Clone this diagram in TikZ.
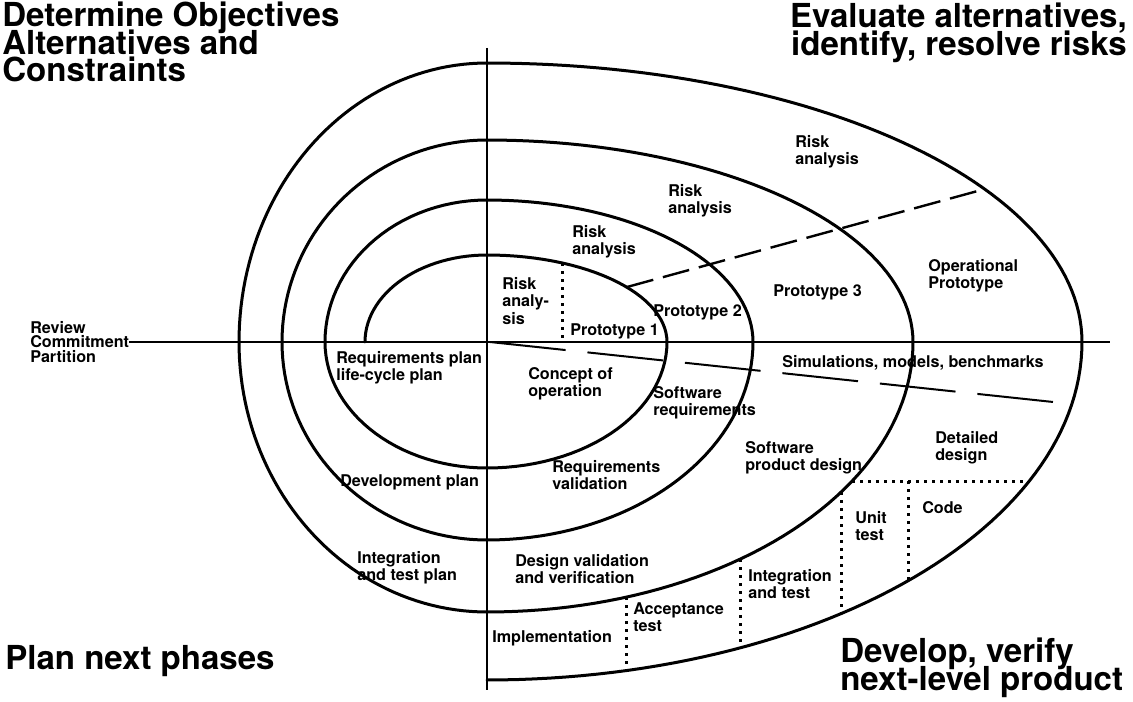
\documentclass[tikz,border=0pt]{standalone}
\usepackage{fontspec}
\setmainfont{TeX Gyre Heros}

\begin{document}
\begin{tikzpicture}[
    x=0.025cm, y=-0.025cm,
    spiral/.style={line width=0.075cm, line join=round, line cap=round},
    axis/.style={line width=0.07cm},
    protodash/.style={line width=0.06cm, dash pattern=on 0.68cm off 0.25cm},
    simdash/.style={line width=0.05cm, dash pattern=on 1.9cm off 0.55cm},
    split/.style={line width=0.075cm, dash pattern=on 0.08cm off 0.12cm},
    label/.style={anchor=north west, align=left, inner sep=0pt,
        font={\fontsize{11.5}{12.5}\selectfont\bfseries\lineskiplimit=-20pt}},
    heading/.style={inner sep=0pt,
        font={\fontsize{23.5}{19.5}\selectfont\bfseries\lineskiplimit=-40pt}},
]
\useasboundingbox (0,0) rectangle (1133,702);

% Quadrant headings
\node[heading, anchor=north west, align=left] (objectives) at (2,2) {Determine Objectives\\Alternatives and\\Constraints};
\node[heading, anchor=north east, align=right] (evaluate) at (1127,3) {Evaluate alternatives,\\identify, resolve risks};
\node[heading, anchor=north west] (plan) at (5,645) {Plan next phases};
\node[heading, anchor=north west, align=left] (develop) at (840,638) {Develop, verify\\next-level product};

% Axes
\node[label, anchor=west, font={\fontsize{11.5}{10.5}\selectfont\bfseries}] (review) at (30,342) {Review\\Commitment\\Partition};
\coordinate (axisE) at (1110,342);
\coordinate (axisN) at (487,48);
\coordinate (axisS) at (487,690);
\draw[axis] (review.east) -- (axisE);
\draw[axis] (axisN) -- (axisS);

% Spiral, one quarter ellipse per quadrant
\draw[spiral] plot[domain=180:270, samples=30] ({487+122*cos(\x)}, {342+87*sin(\x)})
  -- plot[domain=270:360, samples=30] ({487+180*cos(\x)}, {342+87*sin(\x)})
  -- plot[domain=0:90, samples=30] ({487+180*cos(\x)}, {342+126*sin(\x)})
  -- plot[domain=90:180, samples=30] ({487+162*cos(\x)}, {342+126*sin(\x)})
  -- plot[domain=180:270, samples=30] ({487+162*cos(\x)}, {342+142*sin(\x)})
  -- plot[domain=270:360, samples=40] ({487+266*cos(\x)}, {342+142*sin(\x)})
  -- plot[domain=0:90, samples=40] ({487+266*cos(\x)}, {342+198*sin(\x)})
  -- plot[domain=90:180, samples=40] ({487+205*cos(\x)}, {342+198*sin(\x)})
  -- plot[domain=180:270, samples=40] ({487+205*cos(\x)}, {342+202*sin(\x)})
  -- plot[domain=270:360, samples=50] ({487+426*cos(\x)}, {342+202*sin(\x)})
  -- plot[domain=0:90, samples=50] ({487+426*cos(\x)}, {342+270*sin(\x)})
  -- plot[domain=90:180, samples=50] ({487+248*cos(\x)}, {342+270*sin(\x)})
  -- plot[domain=180:270, samples=50] ({487+248*cos(\x)}, {342+279*sin(\x)})
  -- plot[domain=270:360, samples=60] ({487+595*cos(\x)}, {342+279*sin(\x)})
  -- plot[domain=0:90, samples=60] ({487+595*cos(\x)}, {342+338*sin(\x)});

% Prototype and simulation boundaries
\coordinate (protoA) at (627,287);
\coordinate (protoB) at (985,189);
\coordinate (simA) at (490,342);
\coordinate (simB) at (1072,404);
\draw[protodash] (protoA) -- (protoB);
\draw[simdash] (simA) -- (simB);

% Dotted partitions
\coordinate (riskT) at (562,263);
\coordinate (riskB) at (562,342);
\coordinate (accT) at (626,597);
\coordinate (accB) at (626,671);
\coordinate (intT) at (740,559);
\coordinate (intB) at (740,648);
\coordinate (unitT) at (841,492);
\coordinate (unitB) at (841,614);
\coordinate (codeL) at (852,481);
\coordinate (codeR) at (1029,481);
\coordinate (codeT) at (908,481);
\coordinate (codeB) at (908,581);
\draw[split] (riskT) -- (riskB);
\draw[split] (accT) -- (accB);
\draw[split] (intT) -- (intB);
\draw[split] (unitT) -- (unitB);
\draw[split] (codeL) -- (codeR);
\draw[split] (codeT) -- (codeB);

% Upper right: risk analysis and prototypes
\node[label] (risk4) at (795,135) {Risk\\analysis};
\node[label] (risk3) at (668,184) {Risk\\analysis};
\node[label] (risk2) at (572,225) {Risk\\analysis};
\node[label] (risk1) at (502,277) {Risk\\analy-\\sis};
\node[label] (proto1) at (570,323) {Prototype 1};
\node[label] (proto2) at (653,304) {Prototype 2};
\node[label] (proto3) at (773,284) {Prototype 3};
\node[label] (opproto) at (928,259) {Operational\\Prototype};

% Lower right: development steps
\node[label] (concept) at (528,367) {Concept of\\operation};
\node[label] (swreq) at (653,386) {Software\\requirements};
\node[label] (sim) at (782,355) {Simulations, models, benchmarks};
\node[label] (swdesign) at (745,441) {Software\\product design};
\node[label] (detail) at (935,431) {Detailed\\design};
\node[label] (reqval) at (552,460) {Requirements\\validation};
\node[label] (desval) at (515,554) {Design validation\\and verification};
\node[label] (impl) at (492,630) {Implementation};
\node[label] (accept) at (633,602) {Acceptance\\test};
\node[label] (integ) at (748,569) {Integration\\and test};
\node[label] (unit) at (855,511) {Unit\\test};
\node[label] (code) at (922,501) {Code};

% Lower left: plans
\node[label] (reqplan) at (336,351) {Requirements plan\\life-cycle plan};
\node[label] (devplan) at (340,474) {Development plan};
\node[label] (itplan) at (357,551) {Integration\\and test plan};

\end{tikzpicture}
\end{document}
